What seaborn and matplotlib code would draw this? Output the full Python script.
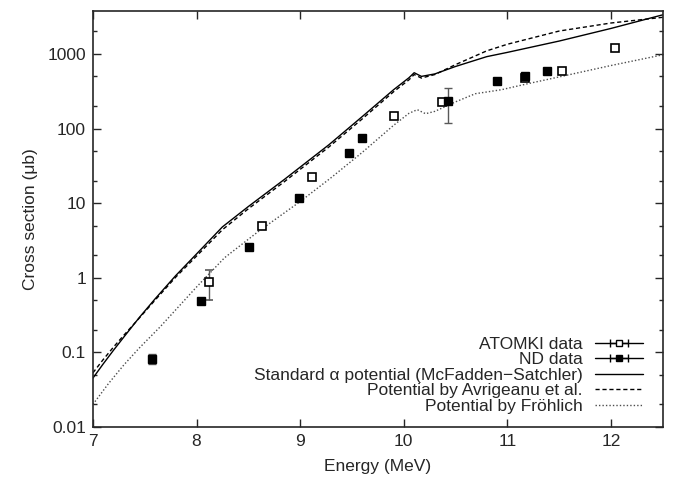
import numpy as np
import pandas as pd
import matplotlib
matplotlib.use('Agg')
import matplotlib.pyplot as plt
import seaborn as sns
from matplotlib.ticker import LogLocator, FixedLocator, FuncFormatter

sns.set_style('ticks')
plt.rcParams['font.family'] = ['Liberation Sans', 'DejaVu Sans']
plt.rcParams['font.size'] = 12.5

# measured points (energy in MeV, cross section in microbarn)
atomki_e = [8.12, 8.63, 9.11, 9.91, 10.37, 11.17, 11.53, 12.04]
atomki_s = [0.88, 4.9, 22.5, 145, 228, 470, 585, 1220]
atomki_err = [0.37, 0.3, 1.8, 8, 15, 40, 35, 80]

nd_e = [7.57, 8.04, 8.51, 8.99, 9.47, 9.60, 10.43, 10.90, 11.17, 11.38]
nd_s = [0.082, 0.48, 2.6, 11.8, 47, 74, 235, 430, 500, 590]
nd_err = [0.013, 0.02, 0.15, 0.6, 3, 4, 115, 20, 25, 30]

# model curves
std_e = [7.0, 7.1, 7.2, 7.3, 7.45, 7.6, 7.8, 8.0, 8.25, 8.5, 8.85, 9.28, 9.6,
         9.9, 10.05, 10.1, 10.17, 10.3, 10.5, 10.8, 11.0, 11.5, 12.0, 12.5]
std_s = [0.045, 0.070, 0.107, 0.161, 0.295, 0.52, 1.07, 2.08, 4.8, 9.0, 20.9, 61,
         145, 330, 480, 560, 500, 540, 680, 920, 1050, 1490, 2200, 3350]
avr_s = [0.053, 0.08, 0.118, 0.17, 0.29, 0.50, 1.02, 1.95, 4.4, 8.4, 19.5, 57,
         135, 310, 450, 530, 475, 530, 720, 1100, 1350, 2030, 2600, 3100]

fro_e = [7.0, 7.15, 7.3, 7.45, 7.65, 8.0, 8.27, 8.6, 9.0, 9.3, 9.6, 9.9, 10.05,
         10.13, 10.21, 10.3, 10.5, 10.69, 10.94, 11.2, 11.49, 12.0, 12.5]
fro_s = [0.020, 0.038, 0.068, 0.115, 0.22, 0.75, 1.85, 4.2, 10.5, 22, 48, 110,
         160, 179, 158, 170, 228, 293, 331, 400, 489, 700, 975]

fig, ax = plt.subplots(figsize=(6.73, 4.84), dpi=100)
fig.subplots_adjust(left=0.138, right=0.985, top=0.977, bottom=0.118)

sns.lineplot(x=std_e, y=std_s, ax=ax, color='black', lw=1.0)
sns.lineplot(x=std_e, y=avr_s, ax=ax, color='black', lw=1.0, linestyle=(0, (3, 2)))
sns.lineplot(x=fro_e, y=fro_s, ax=ax, color='0.3', lw=1.0, linestyle=(0, (1, 1.5)))

ax.errorbar(atomki_e, atomki_s, yerr=atomki_err, fmt='s', ms=5.5, mfc='white',
            mec='black', mew=1.2, ecolor='0.35', elinewidth=1, capsize=3, zorder=5)
ax.errorbar(nd_e, nd_s, yerr=nd_err, fmt='s', ms=5.5, mfc='black',
            mec='black', ecolor='0.35', elinewidth=1, capsize=3, zorder=6)

ax.set_yscale('log')
ax.set_xlim(7, 12.5)
ax.set_ylim(0.01, 3750)
ax.xaxis.set_major_locator(FixedLocator([7, 8, 9, 10, 11, 12]))
ax.yaxis.set_major_locator(LogLocator(base=10, numticks=10))
ax.yaxis.set_minor_locator(LogLocator(base=10, subs=(2, 5), numticks=10))
ax.yaxis.set_minor_formatter(FuncFormatter(lambda v, p: ''))
ax.yaxis.set_major_formatter(FuncFormatter(lambda v, p: '%g' % v))
ax.tick_params(which='both', direction='in', top=True, right=True, width=1)
ax.tick_params(which='major', length=6, labelsize=12.5, pad=5)
ax.tick_params(which='minor', length=3)
for s in ax.spines.values():
    s.set_linewidth(1.2)

ax.set_xlabel('Energy (MeV)', fontsize=12.5, labelpad=7)
ax.set_ylabel('Cross section (μb)', fontsize=12.5, labelpad=7)

# legend proxies in gnuplot style
h1 = ax.errorbar([np.nan], [np.nan], xerr=[1], fmt='s-', ms=5, mfc='white', mec='black',
                 color='black', lw=1, capsize=3, mew=1)
h2 = ax.errorbar([np.nan], [np.nan], xerr=[1], fmt='s-', ms=5, mfc='black', mec='black',
                 color='black', lw=1, capsize=3)
h3, = ax.plot([], [], color='black', lw=1)
h4, = ax.plot([], [], color='black', lw=1, linestyle=(0, (3, 2)))
h5, = ax.plot([], [], color='0.3', lw=1, linestyle=(0, (1, 1.5)))
ax.legend([h1, h2, h3, h4, h5],
          ['ATOMKI data', 'ND data', 'Standard α potential (McFadden−Satchler)',
           'Potential by Avrigeanu et al.', 'Potential by Fröhlich'],
          loc='lower right', frameon=False, markerfirst=False, fontsize=12.5,
          handlelength=2.75, handletextpad=0.7, labelspacing=0.02,
          borderaxespad=0.6, bbox_to_anchor=(0.995, -0.01))

fig.savefig('out.png', dpi=100)
